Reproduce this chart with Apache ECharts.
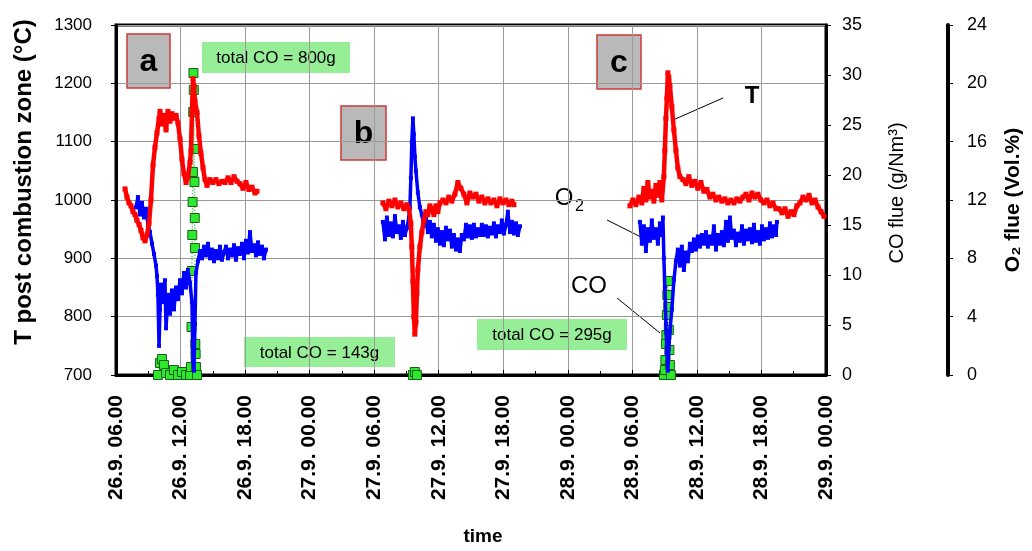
<!DOCTYPE html>
<html>
<head>
<meta charset="utf-8">
<script src="https://cdn.jsdelivr.net/npm/echarts@6/dist/echarts.min.js"></script>
<style>
  html, body { margin: 0; padding: 0; background: #fff; }
  #chart { width: 1032px; height: 551px; }
</style>
</head>
<body>
<div id="chart"></div>
<script>
// x values are hours counted from 26.9. 00.00
const xTickLabels = ['26.9. 06.00', '26.9. 12.00', '26.9. 18.00', '27.9. 00.00', '27.9. 06.00', '27.9. 12.00',
  '27.9. 18.00', '28.9. 00.00', '28.9. 06.00', '28.9. 12.00', '28.9. 18.00', '29.9. 00.00'];

// T post combustion zone (°C)
const tempA = [[6.84,1019],[7.02,1005],[7.21,995],[7.39,990],[7.58,980],[7.77,975],[7.95,965],[8.14,958],[8.32,948],[8.51,935],
  [8.70,930],[8.88,940],[9.07,960],[9.25,1000],[9.44,1060],[9.62,1090],[9.81,1115],[10.00,1140],[10.09,1152],[10.27,1130],
  [10.46,1145],[10.65,1120],[10.83,1152],[11.02,1135],[11.20,1148],[11.39,1140],[11.58,1145],[11.76,1132],[11.95,1105],
  [12.13,1070],[12.32,1045],[12.51,1030],[12.69,1040],[12.88,1065],[12.97,1085],[13.06,1150],[13.16,1208],[13.25,1195],
  [13.34,1170],[13.53,1150],[13.71,1110],[13.90,1080],[14.09,1055],[14.27,1035],[14.46,1025],[14.74,1035],[15.01,1030],
  [15.29,1035],[15.57,1028],[15.85,1032],[16.13,1030],[16.41,1038],[16.69,1030],[16.97,1040],[17.25,1032],[17.52,1028],
  [17.80,1020],[18.08,1030],[18.36,1018],[18.64,1022],[18.92,1012],[19.10,1015]];
const tempB = [[30.81,995],[31.09,985],[31.37,998],[31.65,990],[31.93,1000],[32.20,988],[32.48,995],[32.76,985],[33.04,992],
  [33.23,985],[33.41,960],[33.50,920],[33.60,860],[33.69,800],[33.78,770],[33.88,790],[33.97,840],[34.06,880],[34.25,920],
  [34.43,945],[34.62,965],[34.81,980],[34.99,975],[35.18,990],[35.36,985],[35.55,975],[35.74,990],[35.92,980],[36.11,995],
  [36.39,1000],[36.67,995],[36.94,1005],[37.22,998],[37.50,1010],[37.78,1030],[38.06,1020],[38.34,1010],[38.62,995],
  [38.90,1012],[39.18,1005],[39.46,1010],[39.73,998],[40.01,1005],[40.29,995],[40.57,1002],[40.85,995],[41.13,1000],
  [41.41,990],[41.69,1002],[41.97,995],[42.25,1000],[42.53,992],[42.80,998],[42.99,992]];
const tempC = [[53.77,990],[54.05,1000],[54.33,992],[54.61,1005],[54.88,995],[55.07,1020],[55.26,1000],[55.44,1030],
  [55.63,1005],[55.81,1015],[56.00,998],[56.19,1025],[56.37,1008],[56.56,1030],[56.74,1000],[56.93,1040],[57.02,1085],
  [57.12,1140],[57.21,1175],[57.30,1218],[57.39,1210],[57.49,1195],[57.67,1160],[57.86,1120],[58.05,1085],[58.23,1055],
  [58.42,1040],[58.70,1035],[58.98,1028],[59.25,1040],[59.53,1025],[59.81,1032],[60.09,1020],[60.37,1030],[60.65,1015],
  [60.93,1018],[61.21,1005],[61.49,1010],[61.77,1000],[62.04,1005],[62.32,998],[62.60,1002],[62.88,995],[63.16,1000],
  [63.44,995],[63.72,1002],[64.00,998],[64.28,1005],[64.56,1010],[64.84,1000],[65.12,1012],[65.39,1005],[65.67,1010],
  [65.95,1000],[66.23,995],[66.51,1000],[66.79,990],[67.07,995],[67.35,985],[67.63,985],[67.91,978],[68.19,985],
  [68.47,972],[68.74,980],[69.02,975],[69.30,990],[69.58,995],[69.86,1005],[70.14,1000],[70.42,1008],[70.70,995],
  [70.98,1000],[71.26,988],[71.54,980],[71.81,972]];

// O2 flue (Vol.%)
const o2A = [[7.86,11.5],[8.04,12.2],[8.23,11.0],[8.42,11.8],[8.60,10.8],[8.79,11.4],[8.97,10.3],[9.16,9.8],[9.35,9.0],
  [9.53,8.3],[9.72,7.5],[9.81,6.8],[9.90,5.5],[10.00,2.0],[10.09,4.5],[10.18,6.2],[10.37,5.0],[10.55,6.5],[10.65,3.2],
  [10.83,5.5],[11.02,4.2],[11.20,5.8],[11.39,4.5],[11.58,6.0],[11.76,5.2],[11.95,6.5],[12.13,5.6],[12.32,7.0],[12.51,6.0],
  [12.69,7.2],[12.88,6.3],[13.06,5.0],[13.16,1.0],[13.25,0.3],[13.34,3.5],[13.43,7.0],[13.62,7.8],[13.81,8.5],[13.99,8.0],
  [14.18,8.8],[14.36,8.2],[14.55,9.0],[14.74,8.0],[14.92,8.6],[15.11,7.8],[15.29,8.5],[15.48,8.0],[15.67,8.8],[15.85,7.9],
  [16.04,8.4],[16.22,8.8],[16.41,8.0],[16.60,8.6],[16.78,8.2],[16.97,8.9],[17.15,7.9],[17.34,8.7],[17.52,8.3],[17.71,9.0],
  [17.90,8.0],[18.08,9.2],[18.27,8.4],[18.45,9.8],[18.64,8.5],[18.83,8.9],[19.01,8.2],[19.20,9.1],[19.38,8.3],[19.57,8.8],
  [19.75,8.0],[19.94,8.6]];
const o2B = [[30.81,10.5],[31.00,9.3],[31.18,10.8],[31.37,9.6],[31.55,10.4],[31.74,9.5],[31.93,10.9],[32.11,9.8],[32.30,10.2],
  [32.48,9.4],[32.67,10.5],[32.86,9.6],[33.04,10.1],[33.23,10.8],[33.32,11.5],[33.41,13.5],[33.50,16.0],[33.60,17.6],
  [33.69,16.5],[33.78,15.0],[33.88,14.0],[34.06,12.5],[34.25,11.5],[34.43,11.0],[34.62,10.2],[34.81,10.8],[34.99,9.8],
  [35.18,10.5],[35.36,9.5],[35.55,10.3],[35.74,9.2],[35.92,10.0],[36.11,9.0],[36.30,9.8],[36.48,8.9],[36.67,10.1],
  [36.85,9.3],[37.04,9.9],[37.22,8.8],[37.41,9.6],[37.60,8.6],[37.78,9.3],[37.97,8.5],[38.15,9.6],[38.34,9.3],[38.53,10.3],
  [38.71,9.5],[38.90,10.2],[39.08,9.4],[39.27,10.3],[39.46,9.5],[39.64,10.0],[39.83,9.6],[40.01,10.3],[40.20,9.6],
  [40.39,10.2],[40.57,9.5],[40.76,10.1],[40.94,9.7],[41.13,10.4],[41.32,9.5],[41.50,10.2],[41.69,9.8],[41.87,10.6],
  [42.06,9.7],[42.25,10.3],[42.43,11.2],[42.62,9.8],[42.80,10.5],[42.99,9.7],[43.18,10.4],[43.36,9.6],[43.55,10.2]];
const o2C = [[54.70,10.5],[54.88,9.0],[55.07,10.2],[55.26,8.5],[55.44,10.0],[55.63,9.2],[55.81,10.6],[56.00,9.4],
  [56.19,10.0],[56.37,9.0],[56.56,10.4],[56.74,9.6],[56.84,10.8],[56.93,8.0],[57.02,6.0],[57.12,3.5],[57.21,1.5],
  [57.30,0.3],[57.39,1.8],[57.49,3.0],[57.67,4.5],[57.86,6.5],[58.05,7.8],[58.23,8.6],[58.42,7.5],[58.60,8.8],[58.79,7.2],
  [58.98,8.4],[59.16,7.8],[59.35,9.0],[59.53,8.5],[59.72,9.3],[59.91,8.6],[60.09,9.5],[60.28,8.8],[60.46,9.6],[60.65,9.0],
  [60.84,9.8],[61.02,8.8],[61.21,9.5],[61.39,9.0],[61.58,10.2],[61.77,8.6],[61.95,9.6],[62.14,9.0],[62.32,9.8],[62.51,8.9],
  [62.70,10.5],[62.88,9.2],[63.07,10.8],[63.25,9.4],[63.44,9.9],[63.63,8.9],[63.81,9.7],[64.00,9.2],[64.19,10.2],
  [64.37,9.0],[64.56,9.9],[64.74,9.3],[64.93,10.0],[65.12,9.1],[65.30,10.3],[65.49,9.2],[65.67,9.8],[65.86,9.0],
  [66.05,10.2],[66.23,9.3],[66.42,10.0],[66.60,9.4],[66.79,10.4],[66.98,9.5],[67.16,10.2],[67.35,9.6],[67.44,10.5]];

// CO flue (g/Nm3)
const coA = [[9.90,0],[10.09,1.2],[10.27,1.6],[10.46,1.0],[10.65,0.2],[11.02,0],[11.39,0.5],[11.76,0],[12.13,0.3],
  [12.51,0],[12.88,0],[12.97,0.8],[13.02,4.8],[13.06,10.4],[13.09,14.0],[13.12,17.3],[13.15,20.3],[13.18,26.3],
  [13.20,30.2],[13.23,28.5],[13.26,22.6],[13.29,19.3],[13.32,15.7],[13.34,12.7],[13.37,3.1],[13.40,2.1],[13.43,0.8],[13.53,0]];
const coB = [[33.60,0],[33.78,0.3],[33.97,0]];
const coC = [[56.93,0],[57.02,0.5],[57.07,1.5],[57.12,3.1],[57.16,4.0],[57.21,6.0],[57.25,8.0],[57.30,9.4],[57.35,6.8],
  [57.39,4.5],[57.44,2.5],[57.49,1.0],[57.58,0]];

const FONT = '"Liberation Sans", Arial, sans-serif';

const chart = echarts.init(document.getElementById('chart'));

const tSeries = (data) => ({
  type: 'line', data, yAxisIndex: 0, z: 4,
  symbol: 'rect', symbolSize: 5,
  itemStyle: { color: '#ff0000' },
  lineStyle: { color: '#ff0000', width: 4.5 }
});
const o2Series = (data) => ({
  type: 'line', data, yAxisIndex: 2, z: 3,
  symbol: 'rect', symbolSize: 4,
  itemStyle: { color: '#0000ff' },
  lineStyle: { color: '#0000ff', width: 3.5 }
});
const coSeries = (data) => ({
  type: 'line', data, yAxisIndex: 1, z: 2,
  symbol: 'rect', symbolSize: 9,
  itemStyle: { color: '#2ee82e', borderColor: '#1b5e1b', borderWidth: 1 },
  lineStyle: { color: '#77cc77', width: 1.5, type: 'dotted' }
});

const tagBox = (x, y, w, h, label) => ({
  type: 'group', z: 100,
  children: [
    { type: 'rect', shape: { x, y, width: w, height: h }, style: { fill: '#b9b9b9', stroke: '#cc3a3a', lineWidth: 1.5 } },
    { type: 'text', style: { text: label, x: x + w / 2, y: y + h / 2 + 1, align: 'center', verticalAlign: 'middle',
      font: 'bold 32px ' + FONT, fill: '#000' } }
  ]
});
const totalBox = (x, y, w, h, label) => ({
  type: 'group', z: 100,
  children: [
    { type: 'rect', shape: { x, y, width: w, height: h }, style: { fill: '#96ee96' } },
    { type: 'text', style: { text: label, x: x + w / 2, y: y + h / 2 + 1, align: 'center', verticalAlign: 'middle',
      font: '17px ' + FONT, fill: '#000' } }
  ]
});
// label with white patch behind it, plus leader line; sub = optional subscript
const callout = (label, sub, tx, ty, bw, bh, x1, y1, x2, y2, weight) => {
  const children = [
    { type: 'rect', shape: { x: tx - bw / 2, y: ty - bh / 2, width: bw, height: bh }, style: { fill: '#fff' } },
    { type: 'line', shape: { x1, y1, x2, y2 }, style: { stroke: '#000', lineWidth: 1 } },
    { type: 'text', style: { text: label, x: tx, y: ty, align: 'center', verticalAlign: 'middle',
      font: weight + ' 24px ' + FONT, fill: '#000' } }
  ];
  if (sub) {
    children.push({ type: 'text', style: { text: sub, x: tx + 11, y: ty + 9, align: 'left', verticalAlign: 'middle',
      font: weight + ' 16px ' + FONT, fill: '#000' } });
  }
  return { type: 'group', z: 100, children };
};

const option = {
  animation: false,
  backgroundColor: '#fff',
  textStyle: { fontFamily: FONT },
  grid: { left: 116, right: 206, top: 25, bottom: 173, show: true, borderColor: '#000', borderWidth: 3 },
  xAxis: {
    type: 'value', min: 6, max: 72, interval: 6,
    name: 'time', nameLocation: 'middle', nameGap: 152,
    nameTextStyle: { fontSize: 19, fontWeight: 'bold', color: '#000', padding: [0, 0, 0, 24] },
    axisLine: { lineStyle: { color: '#000', width: 3 } },
    axisTick: { inside: true, length: 5, lineStyle: { color: '#000' } },
    minorTick: { show: true, splitNumber: 2, length: 4, lineStyle: { color: '#000' } },
    splitLine: { show: true, lineStyle: { color: '#9a9a9a', width: 1 } },
    axisLabel: {
      rotate: 90, margin: 20, fontSize: 21, fontWeight: 'bold', color: '#000',
      formatter: (v) => xTickLabels[Math.round((v - 6) / 6)]
    }
  },
  yAxis: [
    {
      type: 'value', min: 700, max: 1300, interval: 100, position: 'left',
      name: 'T post combustion zone (°C)', nameLocation: 'middle', nameGap: 80,
      nameTextStyle: { fontSize: 24, fontWeight: 'bold', color: '#000', padding: [0, 0, 0, 36] },
      axisLine: { show: true, lineStyle: { color: '#000', width: 3 } },
      axisTick: { show: true, length: 5, lineStyle: { color: '#000' } },
      splitLine: { show: true, lineStyle: { color: '#9a9a9a', width: 1 } },
      axisLabel: { fontSize: 17, color: '#000', margin: 24, formatter: (v) => String(v) }
    },
    {
      type: 'value', min: 0, max: 35, interval: 5, position: 'right',
      name: 'CO flue (g/Nm³)', nameLocation: 'middle', nameGap: 61,
      nameTextStyle: { fontSize: 20, color: '#000', padding: [0, 0, 0, 14] },
      axisLine: { show: true, lineStyle: { color: '#000', width: 3 } },
      axisTick: { show: true, length: 5, lineStyle: { color: '#000' } },
      splitLine: { show: false },
      axisLabel: { fontSize: 18, color: '#000', margin: 16 }
    },
    {
      type: 'value', min: 0, max: 24, interval: 4, position: 'right', offset: 122,
      name: 'O₂ flue (Vol.%)', nameLocation: 'middle', nameGap: 55,
      nameTextStyle: { fontSize: 21, fontWeight: 'bold', color: '#000' },
      axisLine: { show: true, lineStyle: { color: '#000', width: 4 } },
      axisTick: { show: true, length: 5, lineStyle: { color: '#000' } },
      splitLine: { show: false },
      axisLabel: { fontSize: 18, color: '#000', margin: 19 }
    }
  ],
  series: [
    coSeries(coA), coSeries(coB), coSeries(coC),
    o2Series(o2A), o2Series(o2B), o2Series(o2C),
    tSeries(tempA), tSeries(tempB), tSeries(tempC)
  ],
  graphic: [
    tagBox(127, 34, 43, 54, 'a'),
    tagBox(341, 106, 45, 54, 'b'),
    tagBox(597, 35, 44, 54, 'c'),
    totalBox(202, 42, 148, 31, 'total CO = 800g'),
    totalBox(244, 337, 151, 30, 'total CO = 143g'),
    totalBox(477, 319, 150, 31, 'total CO = 295g'),
    callout('T', null, 752, 96, 46, 30, 723, 98, 673, 120, 'bold'),
    callout('O', '2', 564, 198, 56, 36, 607, 220, 643, 238, 'normal'),
    callout('CO', null, 589, 286, 54, 30, 617, 298, 660, 333, 'normal')
  ]
};

chart.setOption(option);
</script>
</body>
</html>
